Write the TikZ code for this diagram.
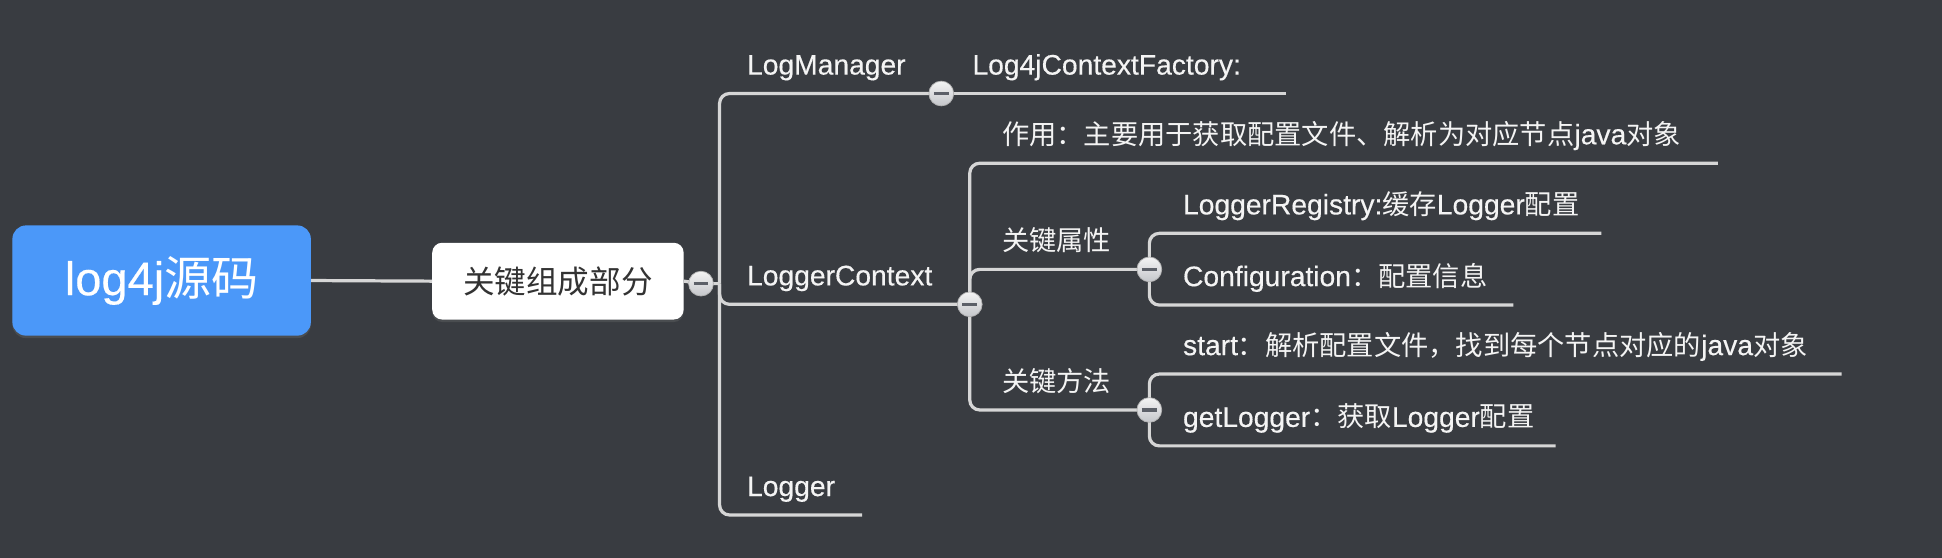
\documentclass[tikz,border=0pt]{standalone}
\usepackage{fontspec}
\setmainfont{Liberation Sans}[FakeBold=0.35]
\newfontfamily\cjk{Noto Sans CJK SC}[Scale=0.965]
\newfontfamily\cjkbig{Noto Sans CJK SC}
\usetikzlibrary{shadows}
\definecolor{bg}{HTML}{393C41}
\definecolor{linec}{HTML}{D6D6D6}
\definecolor{rootblue}{HTML}{4B98F9}
\definecolor{txt}{HTML}{F4F4F4}
\definecolor{darktxt}{HTML}{333333}
\definecolor{minusc}{HTML}{5C6068}
\definecolor{ctop}{HTML}{F4F4F4}
\definecolor{cbot}{HTML}{C4C6CA}
\begin{document}
\begin{tikzpicture}[x=1pt,y=-1pt,
  conn/.style={draw=linec,line width=2.6pt,rounded corners=8pt},
  lbl/.style={anchor=base west,inner sep=0pt,text=txt,font=\fontsize{22.8}{26}\selectfont},
  collapse/.style={circle,minimum size=20pt,inner sep=0pt,draw=gray!60,line width=0.6pt,
    top color=ctop,bottom color=cbot,
    path picture={\draw[line width=2.6pt,draw=minusc]
      ([xshift=-6pt]path picture bounding box.center) -- ([xshift=6pt]path picture bounding box.center);}},
  rootbox/.style={rounded corners=11pt,fill=rootblue,text=white,minimum width=241pt,minimum height=89pt,
    inner sep=0pt,font=\fontsize{38}{44}\selectfont,drop shadow={opacity=0.25,shadow xshift=0pt,shadow yshift=-2pt}},
  topicbox/.style={rounded corners=8pt,fill=white,text=darktxt,minimum width=203pt,minimum height=62pt,
    inner sep=0pt,font=\fontsize{25.5}{30}\selectfont,drop shadow={opacity=0.25,shadow xshift=0pt,shadow yshift=-2pt}},
]
\useasboundingbox (0,0) rectangle (1568,450.5);
\fill[bg] (0,0) rectangle (1568,450.5);

% main nodes
\node[rootbox] (root) at (130.5,226.5) {log4j{\cjkbig 源码}};
\node[topicbox] (parts) at (450.5,227) {{\cjkbig 关键组成部分}};

% circle centres and line ends
\coordinate (c0) at (566,229);
\coordinate (j0) at (581,229);
\coordinate (c1) at (760,75.5);
\coordinate (c2) at (783,245.7);
\coordinate (c3) at (928,217.5);
\coordinate (c4) at (928,331);
\coordinate (eLogger) at (696,415.8);
\coordinate (eFactory) at (1038,75.5);
\coordinate (eUse) at (1387,131.8);
\coordinate (eReg) at (1293,188.4);
\coordinate (eConf) at (1222,246.3);
\coordinate (eStart) at (1487,302);
\coordinate (eGet) at (1256,360);

% connectors
\draw[conn] (root.east) -- (parts.west);
\draw[conn] (parts.east) -- (c0) -- (j0);
\draw[conn] (j0) |- (c1);
\draw[conn] (j0) |- (c2);
\draw[conn] (j0) |- (eLogger);
\draw[conn] (c1) -- (eFactory);
\draw[conn] (c2) |- (eUse);
\draw[conn] (c2) |- (c3);
\draw[conn] (c2) |- (c4);
\draw[conn] (c3) |- (eReg);
\draw[conn] (c3) |- (eConf);
\draw[conn] (c4) |- (eStart);
\draw[conn] (c4) |- (eGet);

% collapse buttons
\node[collapse] (k0) at (c0) {};
\node[collapse] (k1) at (c1) {};
\node[collapse] (k2) at (c2) {};
\node[collapse] (k3) at (c3) {};
\node[collapse] (k4) at (c4) {};

% labels
\node[lbl] (logmanager) at (603,60.2) {LogManager};
\node[lbl] (loggercontext) at (603,230.4) {LoggerContext};
\node[lbl] (logger) at (603,400.5) {Logger};
\node[lbl] (factory) at (785,60.2) {Log4jContextFactory:};
\node[lbl] (use) at (809,116.5) {{\cjk 作用：主要用于获取配置文件、解析为对应节点}java{\cjk 对象}};
\node[lbl] (attrs) at (809,202.2) {{\cjk 关键属性}};
\node[lbl] (methods) at (809,315.7) {{\cjk 关键方法}};
\node[lbl] (registry) at (955,173.1) {LoggerRegistry:{\cjk 缓存}Logger{\cjk 配置}};
\node[lbl] (config) at (955,231) {Configuration{\cjk ：配置信息}};
\node[lbl] (start) at (955,286.7) {start{\cjk ：解析配置文件，找到每个节点对应的}java{\cjk 对象}};
\node[lbl] (getlogger) at (955,344.7) {getLogger{\cjk ：获取}Logger{\cjk 配置}};
\end{tikzpicture}
\end{document}
